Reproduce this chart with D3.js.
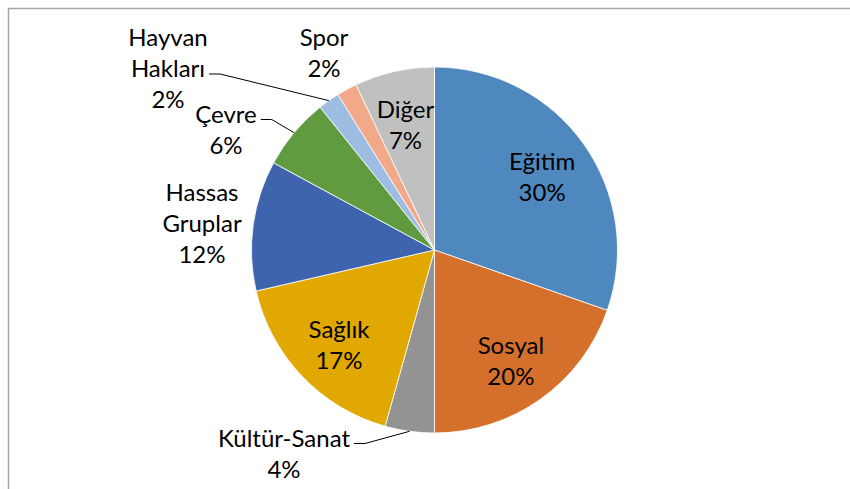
<!DOCTYPE html>
<html>
<head>
<meta charset="utf-8">
<script src="https://cdn.jsdelivr.net/npm/d3@7"></script>
<style>
  body { margin: 0; background: #fff; }
  svg { display: block; }
  text { font-family: Lato, "Open Sans", sans-serif; font-size: 24px; fill: #000; }
</style>
</head>
<body>
<div id="grafico"></div>
<script>
const width  = 850;
const height = 489;

const categories = ["Eğitim", "Sosyal", "Kültür-Sanat", "Sağlık", "Hassas Gruplar", "Çevre", "Hayvan Hakları", "Spor", "Diğer"];
const values     = [30.35, 19.65, 4.35, 17.05, 11.5, 6.35, 1.9, 1.8, 7.05];
const pctLabels  = ["30%", "20%", "4%", "17%", "12%", "6%", "2%", "2%", "7%"];
const colors     = ["#4f88be", "#d4702b", "#939393", "#e0a800", "#3d64ad", "#609b3f", "#9dbde2", "#f2a98a", "#c0c0c0"];

// label text split into lines (Excel wraps them)
const nameLines = [["Eğitim"], ["Sosyal"], ["Kültür-Sanat"], ["Sağlık"], ["Hassas", "Gruplar"], ["Çevre"], ["Hayvan", "Hakları"], ["Spor"], ["Diğer"]];

// outside labels: dragged positions (text centre) and whether a leader line is drawn
const outside = {
  2: { x: 284, y: 453, leader: true },
  4: { x: 202, y: 223, leader: false },
  5: { x: 226, y: 129, leader: true },
  6: { x: 168, y: 68,  leader: true },
  7: { x: 324, y: 52,  leader: false }
};

const cx = 434.5, cy = 250, radius = 183;
const lineH = 31;

const svg = d3.select("#grafico")
              .append("svg")
              .attr("width", width)
              .attr("height", height);

// chart area frame (cut off by the picture on the right and bottom)
svg.append("rect")
   .attr("x", 8.5)
   .attr("y", 8.5)
   .attr("width", 900)
   .attr("height", 600)
   .attr("fill", "none")
   .attr("stroke", "#a6a6a6")
   .attr("stroke-width", 1.5);

const g = svg.append("g")
             .attr("transform", `translate(${cx}, ${cy})`);

const data = categories.map((c, i) => ({ name: c, value: values[i], i: i }));

const pie = d3.pie()
              .sort(null)
              .value(d => d.value);

const arcs = pie(data);

const arc = d3.arc()
              .innerRadius(0)
              .outerRadius(radius);

const labelArc = d3.arc()
                   .innerRadius(132)
                   .outerRadius(132);

g.selectAll("path.slice")
 .data(arcs)
 .join("path")
 .attr("class", "slice")
 .attr("d", arc)
 .attr("fill", d => colors[d.data.i])
 .attr("stroke", "#fff")
 .attr("stroke-width", 0.8);

// leader lines
const edgeArc = d3.arc().innerRadius(radius).outerRadius(radius);
arcs.forEach(d => {
  const o = outside[d.data.i];
  if (!o || !o.leader) return;
  const p = edgeArc.centroid(d);
  const lines = nameLines[d.data.i].concat([pctLabels[d.data.i]]);
  // line sits next to the last name line
  const rowIdx = lines.length - 2;
  const rowY = o.y - (lines.length - 1) * lineH / 2 + rowIdx * lineH + 6;
  const tmp = svg.append("text").text(lines[rowIdx]);
  const w = tmp.node().getComputedTextLength();
  tmp.remove();
  const x0 = o.x + w / 2 + 4 - cx;
  const y0 = rowY - cy;
  g.append("polyline")
   .attr("points", [[x0, y0], [x0 + 11, y0], [p[0], p[1]]].map(q => q.join(",")).join(" "))
   .attr("fill", "none")
   .attr("stroke", "#000")
   .attr("stroke-width", 1);
});

// labels
arcs.forEach(d => {
  const i = d.data.i;
  const lines = nameLines[i].concat([pctLabels[i]]);
  let x, y;
  if (outside[i]) {
    x = outside[i].x;
    y = outside[i].y;
  } else {
    const c = labelArc.centroid(d);
    x = cx + c[0];
    y = cy + c[1] + 3;
  }
  const t = svg.append("text")
               .attr("text-anchor", "middle");
  lines.forEach((ln, k) => {
    t.append("tspan")
     .attr("x", x)
     .attr("y", y - (lines.length - 1) * lineH / 2 + k * lineH + 9)
     .text(ln);
  });
});
</script>
</body>
</html>
